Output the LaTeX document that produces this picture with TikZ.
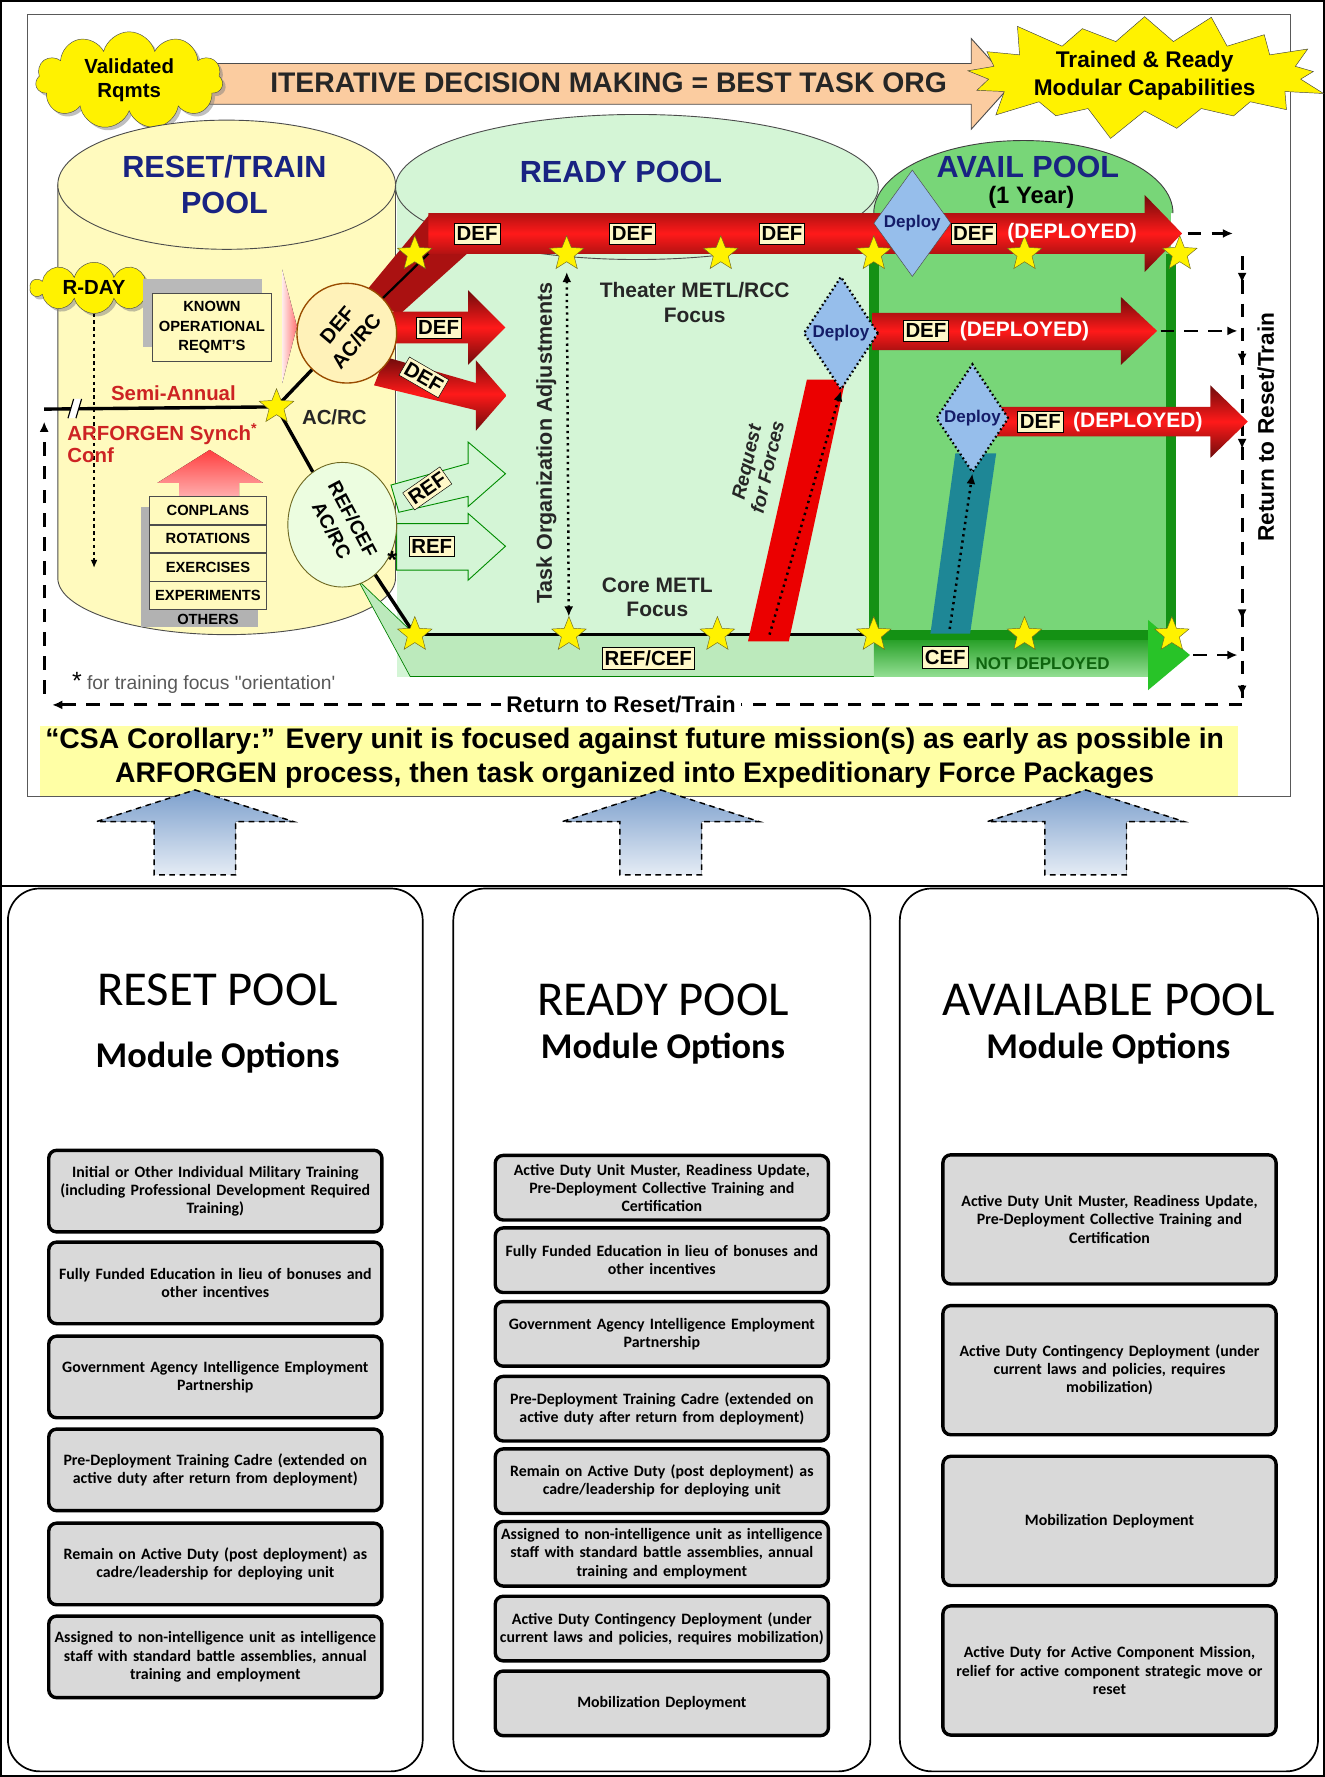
\documentclass[tikz,border=0pt]{standalone}
\usepackage{fontspec}
\setmainfont{Liberation Sans}
\newfontfamily\calibri{Carlito}
\usetikzlibrary{positioning,shapes.geometric,shapes.symbols,arrows.meta,decorations.markings,shadows}

\definecolor{resetyel}{RGB}{255,250,190}
\definecolor{readygrn}{RGB}{212,245,214}
\definecolor{palegrn}{RGB}{188,234,188}
\definecolor{availgrn}{RGB}{120,214,120}
\definecolor{darkgrn}{RGB}{20,145,20}
\definecolor{brightgrn}{RGB}{40,195,40}
\definecolor{peach}{RGB}{251,204,160}
\definecolor{poolblue}{RGB}{25,35,130}
\definecolor{tagyel}{RGB}{255,248,200}
\definecolor{circyel}{RGB}{255,242,185}
\definecolor{deployblue}{RGB}{150,190,235}
\definecolor{tealband}{RGB}{30,135,150}
\definecolor{optgray}{RGB}{217,217,217}
\definecolor{csayel}{RGB}{255,255,165}
\definecolor{upblue}{RGB}{125,160,205}
\definecolor{defred}{RGB}{200,20,20}
\definecolor{semired}{RGB}{205,35,35}

\newcommand{\fsz}[2]{\fontsize{#1}{#2}\selectfont}

\begin{document}
\begin{tikzpicture}[x=1pt, y=-1pt, >={Latex[length=9pt,width=8pt]},
  yelstar/.style={star, star points=5, star point ratio=2.3, fill=yellow, draw=olive!70!black, minimum size=32pt, inner sep=0pt},
  tag/.style={draw=black, fill=tagyel, font=\bfseries\fsz{18}{18}, inner xsep=2pt, inner ysep=3pt},
  deployed/.style={text=white, font=\bfseries\fsz{18.5}{20}},
  deploybox/.style={diamond, fill=deployblue, draw=gray!60!black, inner sep=0pt},
  deploytxt/.style={text=poolblue!80!black, font=\bfseries\fsz{15}{15}},
  dotline/.style={line width=2.2pt, dash pattern=on 2pt off 3.5pt},
  redarrow/.style={top color=defred!55!black, bottom color=defred!55!black, middle color=red!90!white},
  refarrow/.style={draw=green!55!black, fill=readygrn, line width=0.8pt},
  track/.style={line width=3pt, black},
  retline/.style={line width=2.5pt, dash pattern=on 12pt off 9pt},
  pooltitle/.style={text=poolblue, font=\bfseries\fsz{27}{32}, align=center},
  bodytxt/.style={font=\bfseries\fsz{18.5}{22}, text=black!85, align=center},
  listrow/.style={draw=gray!60!black, fill=resetyel, minimum width=103pt, minimum height=24.5pt, inner sep=0pt, font=\bfseries\fsz{13}{13}},
  bigup/.style={dash pattern=on 5pt off 4pt, line width=1.3pt, top color=upblue, bottom color=upblue!20},
  poolbox/.style={draw=black, line width=1.5pt, rounded corners=28pt},
  optbox/.style={draw=black, line width=3pt, rounded corners=7pt, fill=optgray, text width=290pt, align=center, inner xsep=2pt, inner ysep=3pt, font=\calibri\bfseries\fsz{14}{16}}]

  \useasboundingbox (0,0) rectangle (1169,1568);

  % outer border and the two panels
  \draw[line width=1.5pt] (0.75,0.75) rectangle (1168.25,1567.25);
  \draw[line width=1.5pt] (0.75,782) -- (1168.25,782);
  \draw[line width=1pt, gray!70!black] (24,13) rectangle (1139,703);
  \fill[csayel] (35,641) rectangle (1092,702);

  % iterative arrow and clouds
  \filldraw[fill=peach, draw=gray!60!black, line width=0.8pt] (185,56) -- (857,56) -- (857,34) -- (893,74) -- (857,114) -- (857,92) -- (185,92) -- cycle;
  \node[font=\bfseries\fsz{25}{25}, text=black!85] (iter) at (537,73) {ITERATIVE DECISION MAKING = BEST TASK ORG};
  \node[cloud, cloud puffs=11, aspect=3, fill=yellow, draw=gray!60!black, drop shadow, minimum width=165pt, minimum height=52pt, inner sep=0pt, align=center, font=\bfseries\fsz{18}{21}] (validated) at (114,71) {Validated\\Rqmts};
  \node[starburst, starburst points=17, starburst point height=30pt, fill=yellow, draw=gray!50!black, minimum width=235pt, minimum height=108pt, inner sep=0pt, align=center, font=\bfseries\fsz{20}{25}] (trained) at (1010,67) {Trained \& Ready\\Modular Capabilities};

  % reset / train pool
  \filldraw[fill=resetyel, draw=gray!60!black, line width=0.8pt] (51,163) -- (51,510) .. controls (51,537.6) and (117.7,560) .. (200,560) .. controls (282.3,560) and (349,537.6) .. (349,510) -- (349,163) -- cycle;
  \filldraw[fill=resetyel, draw=gray!60!black, line width=0.8pt] (200,163) ellipse [x radius=149, y radius=57];

  % ready pool
  \fill[readygrn] (350,165) rectangle (775,597);
  \filldraw[fill=readygrn, draw=gray!60!black, line width=0.8pt] (562,165) ellipse [x radius=213, y radius=64];

  % avail pool
  \fill[availgrn] (771,188) rectangle (1033,562);
  \filldraw[fill=availgrn, draw=gray!50!black, line width=0.8pt] (771,188) .. controls (771,152.7) and (830.1,124) .. (903,124) .. controls (975.9,124) and (1035,152.7) .. (1035,188);
  \draw[darkgrn, line width=9pt] (771,224) -- (771,562);
  \draw[darkgrn, line width=9pt] (1033,224) -- (1033,562);

  % REF/CEF band running into the CEF arrow
  \filldraw[fill=palegrn, draw=green!50!black, line width=0.6pt] (316,512) -- (366,560) -- (1013,560) -- (1013,597) -- (362,597) -- cycle;
  \fill[top color=brightgrn!80!black, bottom color=availgrn!80!white] (771,562) rectangle (1013,597);
  \fill[brightgrn] (1013,547) -- (1050,578) -- (1013,609) -- cycle;

  % return to reset/train loop
  \coordinate (tip1) at (1048,206);
  \coordinate (r1) at (1088,206);
  \coordinate (tip2) at (1024,292);
  \coordinate (r2) at (1092,292);
  \coordinate (tip4) at (1053,578);
  \coordinate (r4) at (1092,578);
  \coordinate (rtop) at (1096,226);
  \coordinate (rbot) at (1096,622);
  \coordinate (lend) at (46,622);
  \coordinate (lbot) at (39,612);
  \coordinate (ltop) at (39,372);
  \draw[retline, ->] (tip1) -- (r1);
  \draw[retline, ->] (tip2) -- (r2);
  \draw[retline, ->] (tip4) -- (r4);
  \draw[retline, postaction={decorate}, decoration={markings,
      mark=at position 0.06 with {\arrow{Latex[length=9pt,width=8pt]}},
      mark=at position 0.24 with {\arrow{Latex[length=9pt,width=8pt]}},
      mark=at position 0.43 with {\arrow{Latex[length=9pt,width=8pt]}},
      mark=at position 0.81 with {\arrow{Latex[length=9pt,width=8pt]}},
      mark=at position 0.98 with {\arrow{Latex[length=9pt,width=8pt]}}}] (rtop) -- (rbot);
  \draw[retline, ->] (rbot) -- (lend);
  \draw[retline, ->] (lbot) -- (ltop);
  \node[fill=white, inner xsep=5pt, font=\bfseries\fsz{20}{20}] (rettxt) at (548,622) {Return to Reset/Train};
  \node[rotate=90, font=\bfseries\fsz{20}{20}] (rettxt2) at (1117,377) {Return to Reset/Train};

  % DEF and REF arrows out of the circles
  \fill[defred!85!black] (322,258) -- (380,188) -- (412,188) -- (412,224) -- (352,278) -- cycle;
  \path[redarrow] (340,275) -- (413,275) -- (413,256) -- (446,289) -- (413,322) -- (413,303) -- (340,303) -- cycle;
  \path[redarrow] (340,315) -- (420,338) -- (420,318) -- (447,349) -- (420,380) -- (420,362) -- (330,340) -- cycle;
  \filldraw[refarrow] (345,428) -- (413,409) -- (413,390) -- (446,418) -- (413,447) -- (413,438) -- (352,452) -- cycle;
  \filldraw[refarrow] (350,462) -- (413,462) -- (413,453) -- (446,482) -- (413,512) -- (413,503) -- (350,503) -- cycle;

  % circles
  \node[circle, minimum size=88pt, fill=circyel, draw=orange!60!black, line width=1.2pt] (defcirc) at (306,294) {};
  \node[rotate=50, align=center, inner sep=0pt, font=\bfseries\fsz{18}{22}] (defcirctxt) at (defcirc) {DEF\\AC/RC};
  \node[ellipse, minimum width=96pt, minimum height=110pt, fill=circyel!70!green!25, draw=olive!70!black, line width=0.8pt] (refcirc) at (302,463) {};
  \node[rotate=-62, align=center, inner sep=0pt, font=\bfseries\fsz{17}{21}] (refcirctxt) at (refcirc) {REF/CEF\\AC/RC};
  \node[font=\bfseries\fsz{22}{22}] (refstar) at (346,494) {*};

  % star points
  \coordinate (acrc) at (244,359);
  \coordinate (semil) at (39,361);
  \coordinate (diagend) at (382,220);
  \coordinate (top1) at (366,224);
  \coordinate (top2) at (500,224);
  \coordinate (top3) at (636,224);
  \coordinate (top4) at (771,224);
  \coordinate (top5) at (904,224);
  \coordinate (top6) at (1041,224);
  \coordinate (bot1) at (366,560);
  \coordinate (bot2) at (502,560);
  \coordinate (bot3) at (633,560);
  \coordinate (bot4) at (771,560);
  \coordinate (bot5) at (904,560);
  \coordinate (bot6) at (1034,560);
  \coordinate (cefend) at (1013,560);

  % tracks
  \draw[track] (semil) -- (acrc);
  \draw[track] (acrc) -- (defcirc);
  \draw[line width=2pt] (defcirc) -- (diagend);
  \draw[track] (acrc) -- (refcirc);
  \draw[track] (refcirc) -- (bot1);
  \draw[track] (bot1) -- (bot4);
  \draw[darkgrn, line width=9pt] (bot4) -- (cefend);
  \fill[white] (60,369) -- (65,352) -- (72,352) -- (67,369) -- cycle;
  \draw[line width=1pt] (60,369) -- (65,352) (67,369) -- (72,352);

  % request for forces and CEF deploy bands
  \fill[red!92!black] (660,566) -- (696,566) -- (746,335) -- (712,335) -- cycle;
  \fill[tealband] (821,559) -- (856,559) -- (879,400) -- (843,400) -- cycle;

  % DEF rows
  \path[redarrow] (378,188) -- (1010,188) -- (1010,172) -- (1043,206) -- (1010,240) -- (1010,224) -- (378,224) -- cycle;
  \path[redarrow] (770,276) -- (989,276) -- (989,262) -- (1021,292) -- (989,322) -- (989,309) -- (770,309) -- cycle;
  \path[redarrow] (858,359) -- (1068,359) -- (1068,340) -- (1101,372) -- (1068,404) -- (1068,385) -- (858,385) -- cycle;

  % deploy points
  \node[deploybox, minimum width=68pt, minimum height=94pt] (dep1) at (805,197) {};
  \node[deploybox, minimum width=66pt, minimum height=100pt, draw=black, line width=2pt, dash pattern=on 1.5pt off 2.5pt] (dep2) at (742,294) {};
  \node[deploybox, minimum width=64pt, minimum height=96pt, draw=black, line width=2pt, dash pattern=on 1.5pt off 2.5pt] (dep3) at (858,369) {};
  \node[deploytxt] (dep1txt) at (dep1) {Deploy};
  \node[deploytxt] (dep2txt) at (dep2) {Deploy};
  \node[deploytxt] (dep3txt) at (dep3) {Deploy};

  % dotted moves
  \coordinate (reqbase) at (679,560);
  \coordinate (cefbase) at (838,555);
  \draw[dotline, ->] (reqbase) -- (dep2.south);
  \draw[dotline, ->] (cefbase) -- (dep3.south);
  \draw[dotline, <->, shorten <=16pt, shorten >=16pt] (top2) -- (bot2);

  % stars
  \node[yelstar] (acrcst) at (acrc) {};
  \node[yelstar] (topst1) at (top1) {};
  \node[yelstar] (topst2) at (top2) {};
  \node[yelstar] (topst3) at (top3) {};
  \node[yelstar] (topst4) at (top4) {};
  \node[yelstar] (topst5) at (top5) {};
  \node[yelstar] (topst6) at (top6) {};
  \node[yelstar] (botst1) at (bot1) {};
  \node[yelstar] (botst2) at (bot2) {};
  \node[yelstar] (botst3) at (bot3) {};
  \node[yelstar] (botst4) at (bot4) {};
  \node[yelstar] (botst5) at (bot5) {};
  \node[yelstar] (botst6) at (bot6) {};

  % tags on the arrows
  \node[tag] (def1) at (421,206) {DEF};
  \node[tag] (def2) at (558,206) {DEF};
  \node[tag] (def3) at (690,206) {DEF};
  \node[tag] (def4) at (859,206) {DEF};
  \node[deployed] (dpl1) at (946,206) {(DEPLOYED)};
  \node[tag] (def5) at (817,292) {DEF};
  \node[deployed] (dpl2) at (904,292) {(DEPLOYED)};
  \node[tag] (def6) at (918,372) {DEF};
  \node[deployed] (dpl3) at (1004,372) {(DEPLOYED)};
  \node[tag] (def7) at (387,289) {DEF};
  \node[tag, rotate=-30] (def8) at (374,333) {DEF};
  \node[tag, rotate=35] (ref1) at (377,431) {REF};
  \node[tag] (ref2) at (381,482) {REF};
  \node[tag] (refcef) at (572,581) {REF/CEF};
  \node[tag] (cef) at (834,580) {CEF};
  \node[text=darkgrn!70!black, font=\bfseries\fsz{15}{15}] (notdep) at (920,586) {NOT DEPLOYED};

  % pool titles and focus texts
  \node[pooltitle] (resettitle) at (198,163) {RESET/TRAIN\\POOL};
  \node[pooltitle] (readytitle) at (548,152) {READY POOL};
  \node[pooltitle] (availtitle) at (907,147) {AVAIL POOL};
  \node[font=\bfseries\fsz{21}{21}] (availyear) at (910,174) {(1 Year)};
  \node[bodytxt] (theater) at (613,267) {Theater METL/RCC\\Focus};
  \node[bodytxt] (core) at (580,527) {Core METL\\Focus};
  \node[rotate=90, font=\bfseries\fsz{19}{19}, text=black!85] (tasktxt) at (482,391) {Task Organization Adjustments};
  \node[rotate=77, align=center, inner sep=0pt, font=\bfseries\itshape\fsz{17}{19}, text=black!85] (reqtxt) at (668,410) {Request\\for Forces};

  % reset pool contents
  \node[cloud, cloud puffs=10, aspect=2.8, fill=yellow, draw=gray!60!black, drop shadow, minimum width=112pt, minimum height=40pt, inner sep=0pt, font=\bfseries\fsz{18}{18}] (rday) at (83,254) {R-DAY};
  \coordinate (rdayend) at (83,501);
  \draw[line width=1pt, dashed, -{Latex[length=7pt,width=6pt]}] (rday) -- (rdayend);
  \fill[gray!55] (126,246) rectangle (231,306);
  \node[draw=gray!60!black, fill=resetyel, minimum width=105pt, minimum height=60pt, inner sep=1pt, align=center, font=\bfseries\fsz{13}{17}] (known) at (187,289) {KNOWN\\OPERATIONAL\\REQMT'S};
  \fill[left color=red!8, right color=red!55] (249,238) -- (262,288) -- (249,338) -- cycle;
  \node[text=semired, font=\bfseries\fsz{18}{18}] (semitxt) at (153,347) {Semi-Annual};
  \node[text=semired, anchor=west, align=left, font=\bfseries\fsz{18}{20}] (synchtxt) at (56,391) {ARFORGEN Synch\textsuperscript{*}\\Conf};
  \node[font=\bfseries\fsz{18}{18}, text=black!85] (acrctxt) at (295,368) {AC/RC};
  \fill[top color=red!75, bottom color=red!30!white] (185,397) -- (232,426) -- (211,426) -- (211,440) -- (158,440) -- (158,426) -- (139,426) -- cycle;
  \fill[gray!60] (124,447) rectangle (228,553);
  \node[listrow] (conplans) at (183.5,450.5) {CONPLANS};
  \node[listrow, below=0pt of conplans] (rotations) {ROTATIONS};
  \node[listrow, below=0pt of rotations] (exercises) {EXERCISES};
  \node[listrow, below=0pt of exercises] (experiments) {EXPERIMENTS};
  \node[font=\bfseries\fsz{13}{13}, below=1pt of experiments] (others) {OTHERS};
  \node[anchor=west, text=gray!70!black, font=\fsz{17}{17}] (orient) at (60,603) {{\color{black}\fsz{22}{22}*} for training focus \textquotedbl orientation\textquotesingle};

  % corollary
  \node[align=center, font=\bfseries\fsz{25}{30}] (csa) at (560,669) {“CSA Corollary:” Every unit is focused against future mission(s) as early as possible in\\ARFORGEN process, then task organized into Expeditionary Force Packages};

  % arrows up from the module panels
  \filldraw[bigup] (172,697) -- (259,725) -- (208,725) -- (208,772) -- (136,772) -- (136,725) -- (85,725) -- cycle;
  \filldraw[bigup] (583,697) -- (670,725) -- (619,725) -- (619,772) -- (547,772) -- (547,725) -- (496,725) -- cycle;
  \filldraw[bigup] (958,697) -- (1045,725) -- (994,725) -- (994,772) -- (922,772) -- (922,725) -- (871,725) -- cycle;

  % module panels
  \node[poolbox, minimum width=366pt, minimum height=779pt] (resetbox) at (190,1173.5) {};
  \node[poolbox, minimum width=368pt, minimum height=779pt] (readybox) at (584,1173.5) {};
  \node[poolbox, minimum width=369pt, minimum height=779pt] (availbox) at (978.5,1173.5) {};

  \node[font=\calibri\fsz{43}{43}] (resethead) at (192,873) {RESET POOL};
  \node[font=\calibri\bfseries\fsz{32}{32}] (resetmod) at (192,933) {Module Options};
  \node[font=\calibri\fsz{43}{43}] (readyhead) at (585,882) {READY POOL};
  \node[font=\calibri\bfseries\fsz{32}{32}] (readymod) at (585,925) {Module Options};
  \node[font=\calibri\fsz{43}{43}] (availhead) at (978,882) {AVAILABLE POOL};
  \node[font=\calibri\bfseries\fsz{32}{32}] (availmod) at (978,925) {Module Options};

  % reset pool options
  \node[optbox, minimum height=72pt] (rs1) at (190,1051) {Initial or Other Individual Military Training\\(including Professional Development Required\\Training)};
  \node[optbox, minimum height=72pt] (rs2) at (190,1132) {Fully Funded Education in lieu of bonuses and\\other incentives};
  \node[optbox, minimum height=72pt] (rs3) at (190,1215) {Government Agency Intelligence Employment\\Partnership};
  \node[optbox, minimum height=72pt] (rs4) at (190,1297) {Pre-Deployment Training Cadre (extended on\\active duty after return from deployment)};
  \node[optbox, minimum height=72pt] (rs5) at (190,1380) {Remain on Active Duty (post deployment) as\\cadre/leadership for deploying unit};
  \node[optbox, minimum height=72pt] (rs6) at (190,1462) {Assigned to non-intelligence unit as intelligence\\staff with standard battle assemblies, annual\\training and employment};

  % ready pool options
  \node[optbox, minimum height=57pt] (rd1) at (584,1048) {Active Duty Unit Muster, Readiness Update,\\Pre-Deployment Collective Training and\\Certification};
  \node[optbox, minimum height=57pt] (rd2) at (584,1112) {Fully Funded Education in lieu of bonuses and\\other incentives};
  \node[optbox, minimum height=57pt] (rd3) at (584,1177) {Government Agency Intelligence Employment\\Partnership};
  \node[optbox, minimum height=57pt] (rd4) at (584,1243) {Pre-Deployment Training Cadre (extended on\\active duty after return from deployment)};
  \node[optbox, minimum height=57pt] (rd5) at (584,1307) {Remain on Active Duty (post deployment) as\\cadre/leadership for deploying unit};
  \node[optbox, minimum height=57pt] (rd6) at (584,1371) {Assigned to non-intelligence unit as intelligence\\staff with standard battle assemblies, annual\\training and employment};
  \node[optbox, minimum height=57pt] (rd7) at (584,1437) {Active Duty Contingency Deployment (under\\current laws and policies, requires mobilization)};
  \node[optbox, minimum height=57pt] (rd8) at (584,1503) {Mobilization Deployment};

  % available pool options
  \node[optbox, minimum height=114pt] (av1) at (979,1076) {Active Duty Unit Muster, Readiness Update,\\Pre-Deployment Collective Training and\\Certification};
  \node[optbox, minimum height=114pt] (av2) at (979,1209) {Active Duty Contingency Deployment (under\\current laws and policies, requires\\mobilization)};
  \node[optbox, minimum height=114pt] (av3) at (979,1342) {Mobilization Deployment};
  \node[optbox, minimum height=114pt] (av4) at (979,1474) {Active Duty for Active Component Mission,\\relief for active component strategic move or\\reset};
\end{tikzpicture}
\end{document}
